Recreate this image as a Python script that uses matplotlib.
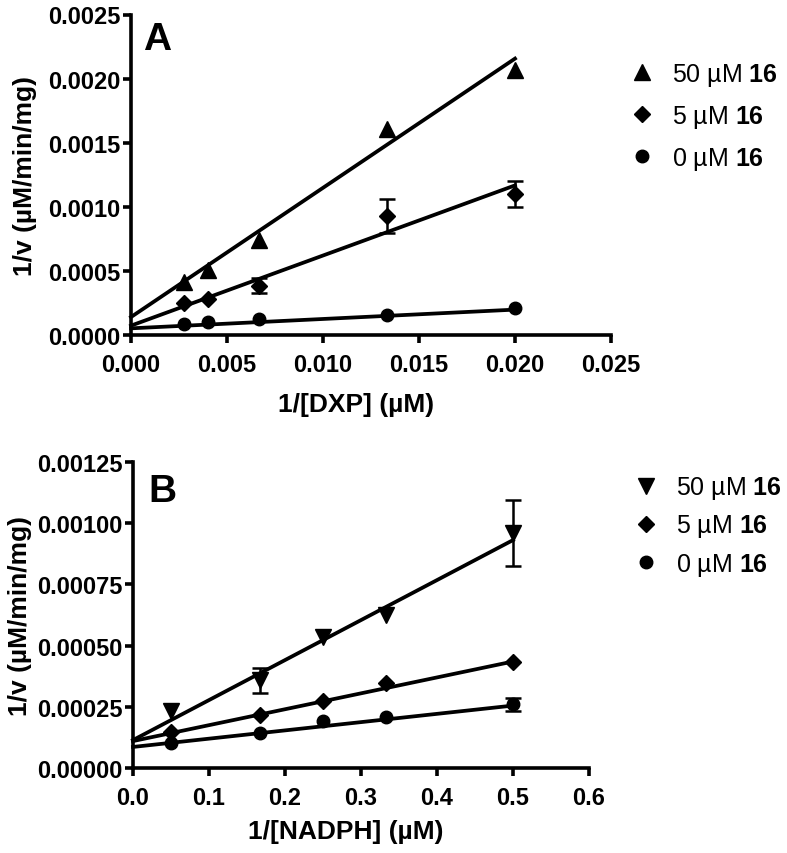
import numpy as np
import matplotlib.pyplot as plt
from matplotlib.ticker import FormatStrFormatter

plt.rcParams['font.family'] = ['Liberation Sans', 'DejaVu Sans']
plt.rcParams['font.weight'] = 'bold'
plt.rcParams['axes.labelweight'] = 'bold'
plt.rcParams['mathtext.fontset'] = 'custom'
plt.rcParams['mathtext.rm'] = 'Liberation Sans'
plt.rcParams['mathtext.bf'] = 'Liberation Sans:bold'

# ---------------- datos panel A (1/[DXP]) ----------------
dxp_x = [1/360, 1/250, 1/150, 1/75, 1/50]
dxp_50 = [0.000417, 0.000505, 0.000742, 0.00161, 0.00207]
dxp_5 = [0.000247, 0.000281, 0.000385, 0.000927, 0.00110]
dxp_5_err = [0, 0, 0.00006, 0.00013, 0.00010]
dxp_0 = [0.000086, 0.000100, 0.000125, 0.000156, 0.000208]
# rectas ajustadas (x = 0 y x = 0.02)
dxp_fit_x = [0.0, 0.02]
dxp_fit_50 = [0.00014, 0.002156]
dxp_fit_5 = [0.000073, 0.001167]
dxp_fit_0 = [0.000052, 0.000198]

# ---------------- datos panel B (1/[NADPH]) ----------------
nadph_x = [0.05, 1/6, 0.25, 1/3, 0.5]
nadph_50 = [0.000233, 0.000358, 0.000534, 0.000624, 0.000961]
nadph_50_err = [0, 0.00005, 0, 0, 0.000135]
nadph_5 = [0.000148, 0.000216, 0.000274, 0.000346, 0.000435]
nadph_0 = [0.000104, 0.000141, 0.000192, 0.000207, 0.000260]
nadph_0_err = [0, 0, 0, 0, 0.000027]
nadph_fit_x = [0.0, 0.5]
nadph_fit_50 = [0.000114, 0.000931]
nadph_fit_5 = [0.000110, 0.000435]
nadph_fit_0 = [0.000086, 0.000255]

labels = ["50 µM $\\mathbf{16}$", "5 µM $\\mathbf{16}$", "0 µM $\\mathbf{16}$"]

a_xticks = [0.0, 0.005, 0.010, 0.015, 0.020, 0.025]
a_yticks = [0.0, 0.0005, 0.0010, 0.0015, 0.0020, 0.0025]
b_xticks = [0.0, 0.1, 0.2, 0.3, 0.4, 0.5, 0.6]
b_yticks = [0.0, 0.00025, 0.00050, 0.00075, 0.00100, 0.00125]

W, H = 787, 854
fig = plt.figure(figsize=(W / 100, H / 100), dpi=100)
axA = fig.add_axes([131 / W, 1 - 336 / H, 480 / W, 320.5 / H])
axB = fig.add_axes([133 / W, 1 - 769 / H, 456 / W, 306 / H])


def errs(ax, x, y, e):
    idx = [i for i in range(len(e)) if e[i] > 0]
    ax.errorbar([x[i] for i in idx], [y[i] for i in idx], yerr=[e[i] for i in idx],
                fmt='none', ecolor='black', elinewidth=1.8, capsize=5.5,
                capthick=1.8, zorder=2)


def estilo(ax, xt, yt, xf, yf):
    for s in ['top', 'right']:
        ax.spines[s].set_visible(False)
    for s in ['left', 'bottom']:
        ax.spines[s].set_linewidth(2.6)
    ax.set_xticks(xt)
    ax.set_yticks(yt)
    ax.set_xlim(xt[0], xt[-1])
    ax.set_ylim(yt[0], yt[-1])
    ax.xaxis.set_major_formatter(FormatStrFormatter(xf))
    ax.yaxis.set_major_formatter(FormatStrFormatter(yf))
    ax.tick_params(direction='out', length=6, width=2.6, labelsize=17)
    ax.tick_params(axis='x', pad=7)
    ax.tick_params(axis='y', pad=1.5)
    for t in ax.get_xticklabels() + ax.get_yticklabels():
        t.set_fontweight('bold')


# ---------------- panel A ----------------
for fy in [dxp_fit_50, dxp_fit_5, dxp_fit_0]:
    axA.plot(dxp_fit_x, fy, color='black', lw=2.7, zorder=1, clip_on=False)
errs(axA, dxp_x, dxp_5, dxp_5_err)
hA = []
hA += axA.plot(dxp_x, dxp_50, '^', color='black', ms=11.5, ls='none', zorder=3, clip_on=False)
hA += axA.plot(dxp_x, dxp_5, 'D', color='black', ms=8, ls='none', zorder=3, clip_on=False)
hA += axA.plot(dxp_x, dxp_0, 'o', color='black', ms=9, ls='none', zorder=3, clip_on=False)
estilo(axA, a_xticks, a_yticks, '%.3f', '%.4f')
axA.set_xlabel("1/[DXP] (µM)", fontsize=19, va='center')
axA.xaxis.set_label_coords(0.469, -0.215)
axA.set_ylabel("1/v (µM/min/mg)", fontsize=19, va='center')
axA.yaxis.set_label_coords(-0.221, 0.5)
axA.legend(hA, labels, loc='center left', bbox_to_anchor=(629 / W, 1 - 117.5 / H),
           bbox_transform=fig.transFigure, frameon=False, borderpad=0, borderaxespad=0,
           handlelength=1.0, handletextpad=0.7, labelspacing=0.6,
           prop={'size': 18, 'weight': 'normal'})
fig.text(143 / W, 1 - 40.5 / H, "A", fontsize=28, fontweight='bold', ha='left', va='center')

# ---------------- panel B ----------------
for fy in [nadph_fit_50, nadph_fit_5, nadph_fit_0]:
    axB.plot(nadph_fit_x, fy, color='black', lw=2.7, zorder=1, clip_on=False)
errs(axB, nadph_x, nadph_50, nadph_50_err)
errs(axB, nadph_x, nadph_0, nadph_0_err)
hB = []
hB += axB.plot(nadph_x, nadph_50, 'v', color='black', ms=11.5, ls='none', zorder=3, clip_on=False)
hB += axB.plot(nadph_x, nadph_5, 'D', color='black', ms=8, ls='none', zorder=3, clip_on=False)
hB += axB.plot(nadph_x, nadph_0, 'o', color='black', ms=9, ls='none', zorder=3, clip_on=False)
estilo(axB, b_xticks, b_yticks, '%.1f', '%.5f')
axB.set_xlabel("1/[NADPH] (µM)", fontsize=19, va='center')
axB.xaxis.set_label_coords(0.467, -0.206)
axB.set_ylabel("1/v (µM/min/mg)", fontsize=19, va='center')
axB.yaxis.set_label_coords(-0.248, 0.5)
axB.legend(hB, labels, loc='center left', bbox_to_anchor=(633 / W, 1 - 527 / H),
           bbox_transform=fig.transFigure, frameon=False, borderpad=0, borderaxespad=0,
           handlelength=1.0, handletextpad=0.7, labelspacing=0.45,
           prop={'size': 18, 'weight': 'normal'})
fig.text(148 / W, 1 - 492 / H, "B", fontsize=28, fontweight='bold', ha='left', va='center')

fig.savefig("out.png", dpi=100)
